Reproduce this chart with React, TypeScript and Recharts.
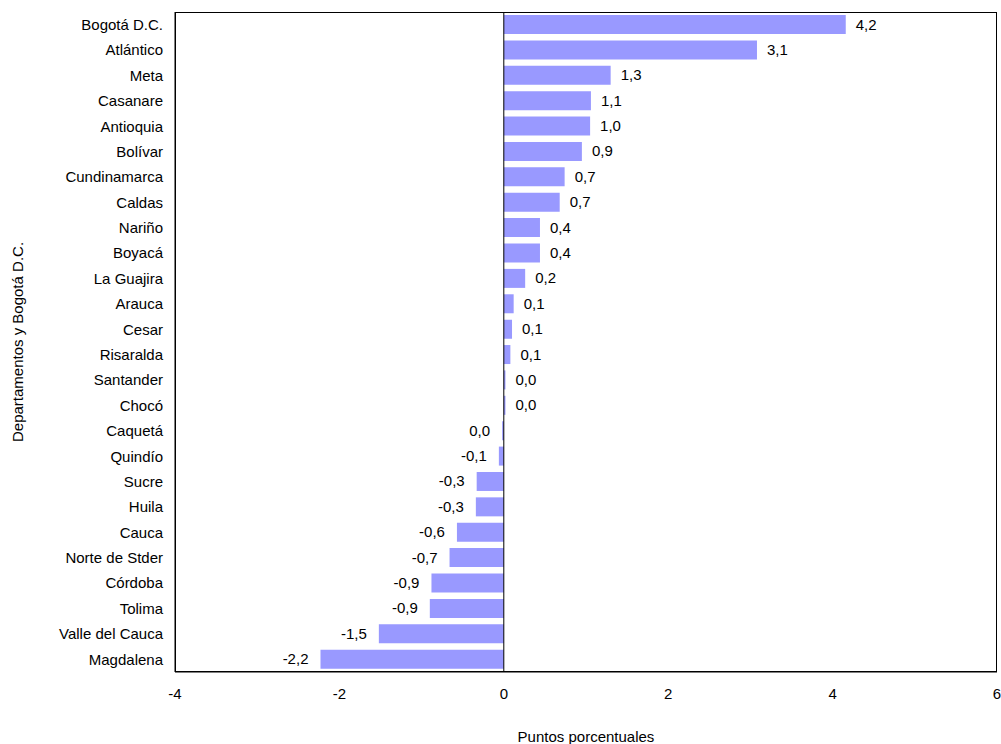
import { BarChart, Bar, XAxis, YAxis, ReferenceLine, LabelList } from "recharts";

const categories = [
  "Bogotá D.C.", "Atlántico", "Meta", "Casanare", "Antioquia", "Bolívar", "Cundinamarca", "Caldas",
  "Nariño", "Boyacá", "La Guajira", "Arauca", "Cesar", "Risaralda", "Santander", "Chocó",
  "Caquetá", "Quindío", "Sucre", "Huila", "Cauca", "Norte de Stder", "Córdoba", "Tolima",
  "Valle del Cauca", "Magdalena",
];
const values = [
  4.16, 3.08, 1.3, 1.06, 1.05, 0.95, 0.74, 0.68, 0.44, 0.44, 0.26, 0.12, 0.1, 0.08, 0.02, 0.02,
  -0.02, -0.06, -0.33, -0.34, -0.57, -0.66, -0.88, -0.9, -1.52, -2.23,
];
const labels = [
  "4,2", "3,1", "1,3", "1,1", "1,0", "0,9", "0,7", "0,7", "0,4", "0,4", "0,2", "0,1", "0,1", "0,1", "0,0", "0,0",
  "0,0", "-0,1", "-0,3", "-0,3", "-0,6", "-0,7", "-0,9", "-0,9", "-1,5", "-2,2",
];
const xTicks = [-4, -2, 0, 2, 4, 6];

const data = categories.map((name, i) => ({ name, value: values[i], label: labels[i] }));
const font = { fontSize: 15, fill: "#000", fontFamily: "'Liberation Sans', Arial, sans-serif" };

const ValueLabel = (props: any) => {
  const { x, y, width, height, index } = props;
  const v = values[index];
  const end = v >= 0 ? x + width + 10 : x + width - 12;
  return (
    <text x={end} y={y + height / 2} dy={5} textAnchor={v >= 0 ? "start" : "end"} {...font}>
      {labels[index]}
    </text>
  );
};

export default function App() {
  return (
    <div style={{ position: "absolute", left: 0, top: 0, width: 1001, height: 744 }}>
      <BarChart width={1001} height={744} data={data} layout="vertical" margin={{ top: 12, right: 4, bottom: 16, left: 10 }} barCategoryGap="12%">
        <XAxis type="number" domain={[-4, 6]} ticks={xTicks} tick={font} tickLine={false} axisLine={{ stroke: "#000" }} tickMargin={10} height={56}
          label={{ value: "Puntos porcentuales", position: "insideBottom", offset: -14, style: font }} />
        <YAxis type="category" dataKey="name" tick={font} tickLine={false} axisLine={{ stroke: "#000" }} width={165} tickMargin={6}
          label={{ value: "Departamentos y Bogotá D.C.", angle: -90, position: "insideLeft", offset: 8, style: { ...font, textAnchor: "middle" } }} />
        <ReferenceLine x={0} stroke="#000" />
        <Bar dataKey="value" fill="#9999FF" isAnimationActive={false}>
          <LabelList dataKey="label" content={<ValueLabel />} />
        </Bar>
      </BarChart>
      <div style={{ position: "absolute", left: 175, top: 12, width: 822, height: 660, border: "1px solid #000", boxSizing: "border-box", pointerEvents: "none" }} />
    </div>
  );
}
